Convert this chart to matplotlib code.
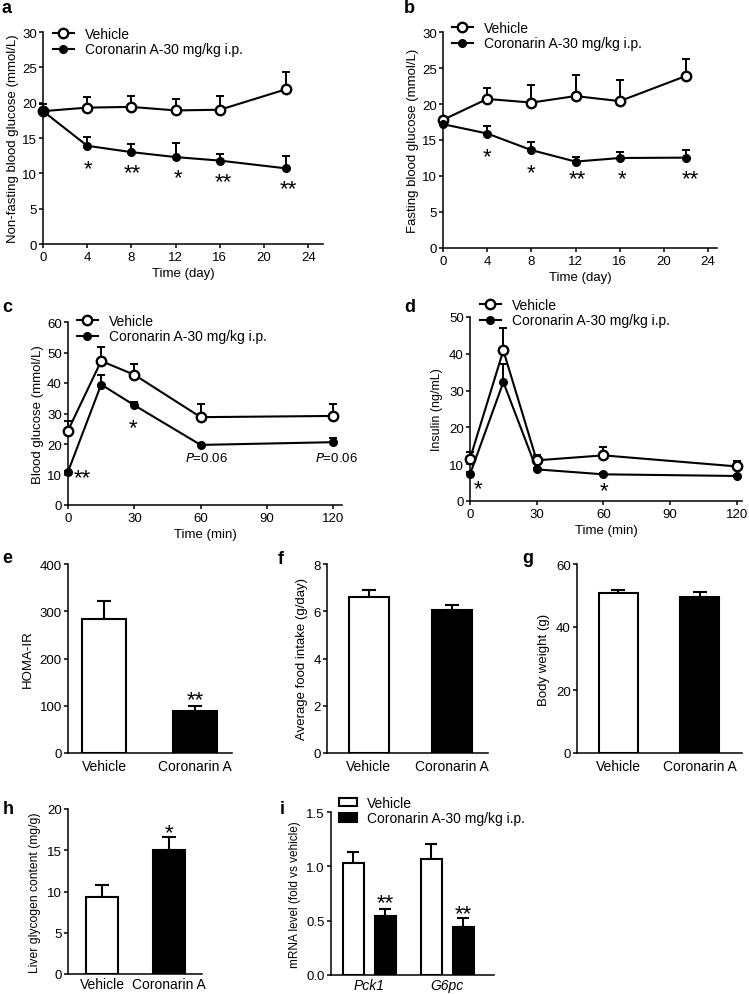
import matplotlib
matplotlib.use("Agg")
import matplotlib.pyplot as plt


# ==========================
# Data
# ==========================

days = [0, 4, 8, 12, 16, 22]

a_vehicle = [18.8, 19.3, 19.4, 18.9, 19.0, 21.9]
a_vehicle_err = [1.0, 1.5, 1.5, 1.6, 1.9, 2.4]
a_coronarin = [18.8, 13.9, 13.0, 12.3, 11.8, 10.7]
a_coronarin_err = [0.0, 1.2, 1.2, 2.0, 1.0, 1.8]
a_stars = [(4.1, 11.1, "*"), (8.1, 10.6, "**"), (12.2, 9.8, "*"),
           (16.3, 9.35, "**"), (22.2, 8.3, "**")]

b_vehicle = [17.8, 20.7, 20.2, 21.1, 20.4, 23.9]
b_vehicle_err = [0.4, 1.5, 2.5, 2.9, 3.0, 2.4]
b_coronarin = [17.2, 15.9, 13.6, 12.0, 12.5, 12.55]
b_coronarin_err = [0.0, 1.0, 1.1, 0.7, 0.8, 1.05]
b_stars = [(4.0, 13.2, "*"), (8.0, 11.0, "*"), (12.2, 10.15, "**"),
           (16.2, 10.15, "*"), (22.4, 10.15, "**")]

minutes = [0, 15, 30, 60, 120]

c_vehicle = [24.4, 47.2, 42.7, 28.8, 29.2]
c_vehicle_err = [3.3, 4.6, 3.6, 4.4, 4.0]
c_coronarin = [10.9, 39.5, 32.7, 19.7, 20.6]
c_coronarin_err = [0.3, 3.0, 1.2, 0.5, 1.4]
c_stars = [(6.3, 10.2, "**"), (29.6, 26.6, "*")]
c_pvalues = [(62.8, 15.7), (121.2, 15.7)]

d_vehicle = [11.5, 40.9, 11.05, 12.4, 9.4]
d_vehicle_err = [1.8, 6.2, 1.5, 2.3, 1.6]
d_coronarin = [7.25, 32.3, 8.6, 7.25, 6.8]
d_coronarin_err = [0.5, 5.0, 0.5, 0.3, 0.3]
d_stars = [(3.75, 4.3, "*"), (60.3, 3.8, "*")]

groups = ["Vehicle", "Coronarin A"]

homa_ir = [284, 89.5]
homa_ir_err = [38, 9.3]
homa_ir_stars = [(1, 121, "**")]

food_intake = [6.61, 6.05]
food_intake_err = [0.30, 0.21]

body_weight = [50.85, 49.6]
body_weight_err = [0.85, 1.6]

glycogen = [9.34, 15.07]
glycogen_err = [1.4, 1.53]
glycogen_stars = [(1, 17.5, "*")]

genes = ["Pck1", "G6pc"]
mrna_vehicle = [1.035, 1.065]
mrna_vehicle_err = [0.10, 0.145]
mrna_coronarin = [0.54, 0.44]
mrna_coronarin_err = [0.07, 0.085]
mrna_stars = [0.70, 0.60]

label_vehicle = "Vehicle"
label_coronarin = "Coronarin A-30 mg/kg i.p."


# ==========================
# Style
# ==========================

plt.rcParams["font.family"] = ["Liberation Sans", "DejaVu Sans"]
plt.rcParams["axes.linewidth"] = 1.1
plt.rcParams["xtick.major.width"] = 1.1
plt.rcParams["ytick.major.width"] = 1.1
plt.rcParams["xtick.major.size"] = 3
plt.rcParams["ytick.major.size"] = 3
plt.rcParams["xtick.labelsize"] = 9.5
plt.rcParams["ytick.labelsize"] = 9.5
plt.rcParams["xtick.major.pad"] = 2
plt.rcParams["ytick.major.pad"] = 1.5

W, H = 749, 995
STAR_SIZE = 16

fig = plt.figure(figsize=(W / 100, H / 100), dpi=100)


def make_axes(left, top, right, bottom):
    ax = fig.add_axes([left / W, 1 - bottom / H, (right - left) / W, (bottom - top) / H])
    ax.spines["top"].set_visible(False)
    ax.spines["right"].set_visible(False)
    return ax


def panel_letter(x, y, letter):
    fig.text(x / W, 1 - y / H, letter, fontsize=13, fontweight="bold",
             va="baseline", ha="left")


def line_panel(ax, x, veh, veh_err, cor, cor_err):
    zero = [0] * len(x)
    ax.errorbar(x, veh, yerr=[zero, veh_err], fmt="none", ecolor="black",
                elinewidth=1.4, capsize=2.6, capthick=1.4, clip_on=False, zorder=2)
    ax.errorbar(x, cor, yerr=[zero, cor_err], fmt="none", ecolor="black",
                elinewidth=1.4, capsize=2.6, capthick=1.4, clip_on=False, zorder=2)
    ax.plot(x, veh, "-o", color="black", mfc="white", mec="black", ms=6.8,
            mew=1.7, lw=1.5, clip_on=False, zorder=3, label=label_vehicle)
    ax.plot(x, cor, "-o", color="black", ms=5.5, lw=1.5, clip_on=False,
            zorder=4, label=label_coronarin)


def line_legend(ax, x, y):
    ax.legend(loc="upper left", bbox_to_anchor=(x / W, 1 - y / H),
              bbox_transform=fig.transFigure, frameon=False, fontsize=10,
              handlelength=1.5, handletextpad=0.8, labelspacing=0.1,
              borderpad=0, borderaxespad=0, numpoints=1)


def star_text(ax, sx, sy, s):
    # place the glyph centre (not the text box centre) at (sx, sy)
    ax.annotate(s, (sx, sy), xytext=(0, -0.40 * STAR_SIZE),
                textcoords="offset points", ha="center", va="baseline",
                fontsize=STAR_SIZE, annotation_clip=False)


def stars(ax, items):
    for sx, sy, s in items:
        star_text(ax, sx, sy, s)


def bar_panel(ax, vals, errs, ylim, ystep, ylabel, xlim):
    pos = [0, 1]
    ax.errorbar(pos, vals, yerr=[[0, 0], errs], fmt="none", ecolor="black",
                elinewidth=1.5, capsize=5, capthick=1.5, zorder=1)
    ax.bar(pos, vals, width=0.48, color=["white", "black"], edgecolor="black",
           linewidth=1.5, zorder=2)
    ax.set_xlim(*xlim)
    ax.set_ylim(0, ylim)
    ax.set_yticks([v * ystep for v in range(int(round(ylim / ystep)) + 1)])
    ax.set_xticks(pos)
    ax.set_xticklabels(groups, fontsize=10)
    ax.tick_params(axis="x", length=0, pad=4)
    ax.set_ylabel(ylabel, fontsize=9.5, labelpad=4)


# ==========================
# a: non-fasting glucose
# ==========================

ax = make_axes(43, 33, 323, 245)
line_panel(ax, days, a_vehicle, a_vehicle_err, a_coronarin, a_coronarin_err)
ax.set_xlim(0, 25.33)
ax.set_ylim(0, 30)
ax.set_xticks([0, 4, 8, 12, 16, 20, 24])
ax.set_yticks([0, 5, 10, 15, 20, 25, 30])
ax.set_xlabel("Time (day)", fontsize=9.5, labelpad=3)
ax.set_ylabel("Non-fasting blood glucose (mmol/L)", fontsize=9.5, labelpad=2)
stars(ax, a_stars)
line_legend(ax, 53, 28)
panel_letter(1, 13, "a")

# ==========================
# b: fasting glucose
# ==========================

ax = make_axes(443, 33, 717, 249)
line_panel(ax, days, b_vehicle, b_vehicle_err, b_coronarin, b_coronarin_err)
ax.set_xlim(0, 24.8)
ax.set_ylim(0, 30)
ax.set_xticks([0, 4, 8, 12, 16, 20, 24])
ax.set_yticks([0, 5, 10, 15, 20, 25, 30])
ax.set_xlabel("Time (day)", fontsize=9.5, labelpad=3)
ax.set_ylabel("Fasting blood glucose (mmol/L)", fontsize=9.5, labelpad=2)
stars(ax, b_stars)
line_legend(ax, 452, 22)
panel_letter(404, 13, "b")

# ==========================
# c: glucose tolerance
# ==========================

ax = make_axes(68, 323, 342, 506)
line_panel(ax, minutes, c_vehicle, c_vehicle_err, c_coronarin, c_coronarin_err)
ax.set_xlim(0, 123.9)
ax.set_ylim(0, 60)
ax.set_xticks([0, 30, 60, 90, 120])
ax.set_yticks([0, 10, 20, 30, 40, 50, 60])
ax.set_xlabel("Time (min)", fontsize=9.5, labelpad=3)
ax.set_ylabel("Blood glucose (mmol/L)", fontsize=9.5, labelpad=2)
stars(ax, c_stars)
for px, py in c_pvalues:
    ax.text(px, py, "$\\it{P}$=0.06", ha="center", va="center", fontsize=9.5,
            clip_on=False)
line_legend(ax, 77, 315)
panel_letter(2, 312, "c")

# ==========================
# d: insulin
# ==========================

ax = make_axes(470, 318, 742, 502)
line_panel(ax, minutes, d_vehicle, d_vehicle_err, d_coronarin, d_coronarin_err)
ax.set_xlim(0, 122.4)
ax.set_ylim(0, 50)
ax.set_xticks([0, 30, 60, 90, 120])
ax.set_yticks([0, 10, 20, 30, 40, 50])
ax.set_xlabel("Time (min)", fontsize=9.5, labelpad=3)
ax.set_ylabel("Insulin (ng/mL)", fontsize=9, labelpad=4)
stars(ax, d_stars)
line_legend(ax, 480, 299)
panel_letter(404, 312, "d")

# ==========================
# e, f, g: bar charts
# ==========================

ax = make_axes(68, 565, 232, 754)
bar_panel(ax, homa_ir, homa_ir_err, 400, 100, "HOMA-IR", (-0.4, 1.41))
stars(ax, homa_ir_stars)
panel_letter(2, 563, "e")

ax = make_axes(327, 565, 488, 754)
bar_panel(ax, food_intake, food_intake_err, 8, 2,
          "Average food intake (g/day)", (-0.5, 1.43))
panel_letter(278, 564, "f")

ax = make_axes(577, 565, 742, 754)
bar_panel(ax, body_weight, body_weight_err, 60, 20, "Body weight (g)", (-0.51, 1.52))
panel_letter(522, 563, "g")

# ==========================
# h: liver glycogen
# ==========================

ax = make_axes(68, 810, 202, 975)
bar_panel(ax, glycogen, glycogen_err, 20, 5,
          "Liver glycogen content (mg/g)", (-0.51, 1.5))
ax.set_ylabel("Liver glycogen content (mg/g)", fontsize=8.7, labelpad=4)
ax.tick_params(axis="x", pad=2)
stars(ax, glycogen_stars)
panel_letter(3, 814, "h")

# ==========================
# i: mRNA levels
# ==========================

ax = make_axes(331, 813, 494, 976)
gpos = [0, 1]
off = 0.205
veh_x = [g - off for g in gpos]
cor_x = [g + off for g in gpos]
ax.errorbar(veh_x, mrna_vehicle, yerr=[[0, 0], mrna_vehicle_err], fmt="none",
            ecolor="black", elinewidth=1.5, capsize=4, capthick=1.5, zorder=1)
ax.errorbar(cor_x, mrna_coronarin, yerr=[[0, 0], mrna_coronarin_err], fmt="none",
            ecolor="black", elinewidth=1.5, capsize=4, capthick=1.5, zorder=1)
ax.bar(veh_x, mrna_vehicle, width=0.27, color="white", edgecolor="black",
       linewidth=1.5, zorder=2, label=label_vehicle)
ax.bar(cor_x, mrna_coronarin, width=0.27, color="black", edgecolor="black",
       linewidth=1.5, zorder=2, label=label_coronarin)
for sx, sy in zip(cor_x, mrna_stars):
    star_text(ax, sx, sy, "**")
ax.set_xlim(-0.49, 1.6)
ax.set_ylim(0, 1.5)
ax.set_yticks([0.0, 0.5, 1.0, 1.5])
ax.set_yticklabels(["0.0", "0.5", "1.0", "1.5"])
ax.set_xticks(gpos)
ax.set_xticklabels(genes, fontsize=10, style="italic")
ax.tick_params(axis="x", length=0, pad=2)
ax.set_ylabel("mRNA level (fold vs vehicle)", fontsize=8.5, labelpad=4)
ax.legend(loc="upper left", bbox_to_anchor=(339 / W, 1 - 797 / H),
          bbox_transform=fig.transFigure, frameon=False, fontsize=10,
          handlelength=1.3, handleheight=0.55, handletextpad=0.7,
          labelspacing=0.1, borderpad=0, borderaxespad=0)
panel_letter(280, 814, "i")

fig.savefig("out.png", dpi=100)
